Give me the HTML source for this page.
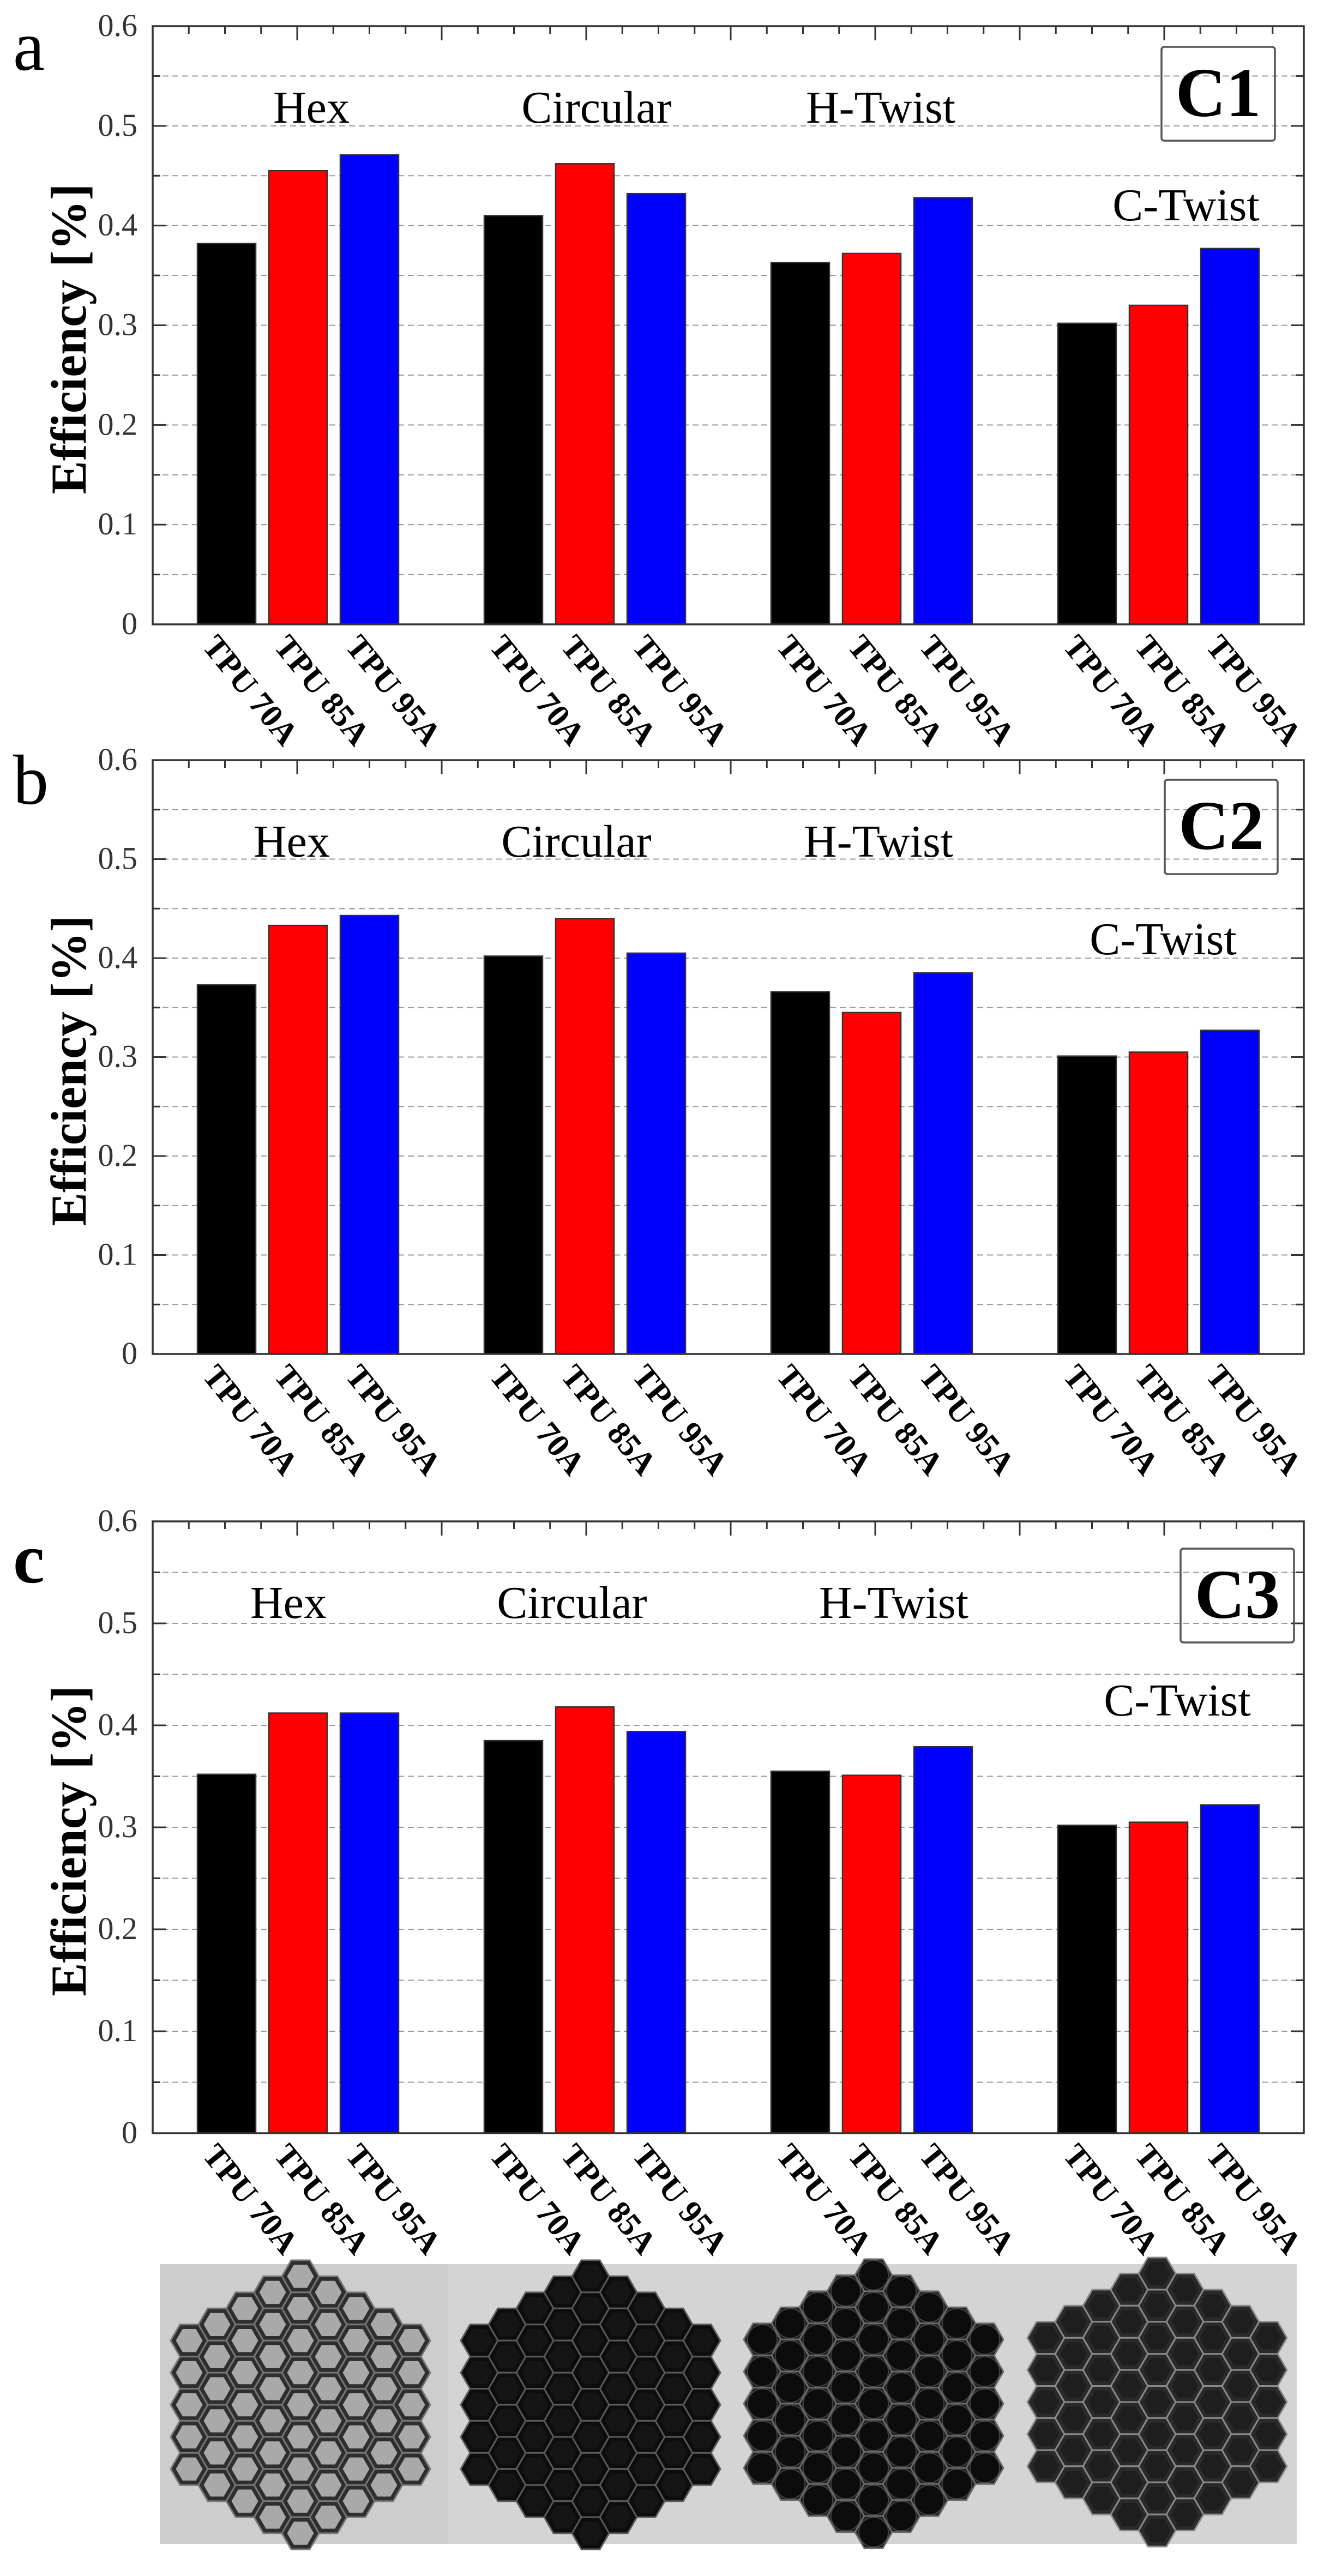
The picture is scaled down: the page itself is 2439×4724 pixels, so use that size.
<!DOCTYPE html>
<html><head><meta charset="utf-8"><style>
html,body{margin:0;padding:0;background:#fff}
svg{display:block}
</style></head><body>
<svg id="fig" xmlns="http://www.w3.org/2000/svg" width="2439" height="4724" viewBox="0 0 2439 4724"></svg>
<script>
const categories = ["Hex","Circular","H-Twist","C-Twist"];
const materials = ["TPU 70A","TPU 85A","TPU 95A"];
const yTicks = ["0","0.1","0.2","0.3","0.4","0.5","0.6"];
const c1Values = [0.382,0.455,0.471, 0.410,0.462,0.432, 0.363,0.372,0.428, 0.302,0.320,0.377];
const c2Values = [0.373,0.433,0.443, 0.402,0.440,0.405, 0.366,0.345,0.385, 0.301,0.305,0.327];
const c3Values = [0.352,0.412,0.412, 0.385,0.418,0.394, 0.355,0.351,0.379, 0.302,0.305,0.322];
const panelNames = ["C1","C2","C3"];
const panelLetters = ["a","b","c"];

const NS="http://www.w3.org/2000/svg";
const fig=document.getElementById('fig');
function mk(tag,attrs,parent,text){const e=document.createElementNS(NS,tag);for(const k in attrs)e.setAttribute(k,attrs[k]);if(text!==undefined)e.textContent=text;(parent||fig).appendChild(e);return e;}
const colors=["#000000","#ff0000","#0000ff"];
const serif='"Liberation Serif", serif';

const layouts=[
 {top:48,bottom:1145,series:c1Values,catX:[571,1094,1615,2175],boxX:2130,boxY:86,boxW:208,boxH:172},
 {top:1394,bottom:2483,series:c2Values,catX:[535,1057,1611,2133],boxX:2136,boxY:1430,boxW:207,boxH:173},
 {top:2790,bottom:3912,series:c3Values,catX:[529,1049,1639,2159],boxX:2165,boxY:2840,boxW:208,boxH:172}
];
const L=280,R=2391;
const barW=107,barStep=131,groupStep=526,firstBar=362;

layouts.forEach((lay,pi)=>{
  const g=mk('g',{});
  
  
  const yS=v=>lay.bottom-(v/0.6)*(lay.bottom-lay.top);
  // gridlines & y ticks
  for(let i=1;i<12;i++){
    const v=i*0.05,y=yS(v);
    const gl=mk('line',{x1:L,x2:R,y1:y,y2:y,stroke:'#9a9a9a','stroke-width':2,'stroke-dasharray':'11 7'},g);
    
    
    const len=(i%2===0)?24:14;
    mk('line',{x1:L,x2:L+len,y1:y,y2:y,stroke:'#333','stroke-width':3},g);
    mk('line',{x1:R-len,x2:R,y1:y,y2:y,stroke:'#333','stroke-width':3},g);
  }
  // top ticks
  for(let k=0;;k++){
    const x=545-4*66.25+k*66.25; if(x>=R-5)break; if(x<=L+5)continue;
    const major=((k%4)===0);
    mk('line',{x1:x,x2:x,y1:lay.top,y2:lay.top+(major?26:14),stroke:'#333','stroke-width':3},g);
  }
  // y tick labels
  yTicks.forEach((t,i)=>{
    const tl=mk('text',{x:252,y:yS(i*0.1)+18,'text-anchor':'end','font-family':serif,'font-size':58,fill:'#333'},g,t);
    
    
  });
  // bars
  lay.series.forEach((v,i)=>{
    const gi=Math.floor(i/3),mi=i%3;
    const x=firstBar+gi*groupStep+mi*barStep;
    const b=mk('rect',{x:x,y:yS(v),width:barW,height:yS(0)-yS(v),fill:colors[mi],stroke:'#333','stroke-width':2.5},g);
    
    
    const lx=x+40,ly=lay.bottom+14;
    const xl=mk('text',{x:0,y:0,transform:`translate(${lx},${ly}) rotate(51)`,'dominant-baseline':'hanging','font-family':serif,'font-weight':'bold','font-size':60,fill:'#000'},g,materials[mi]);
    
    
  });
  // axes frame
  const fr=mk('rect',{x:L,y:lay.top,width:R-L,height:lay.bottom-lay.top,fill:'none',stroke:'#333','stroke-width':3.5},g);
  
  
  // category labels
  categories.forEach((c,ci)=>{
    const by=(ci===3)?lay.top+356:lay.top+177;
    const cl=mk('text',{x:lay.catX[ci],y:by,'text-anchor':'middle','font-family':serif,'font-size':84,fill:'#000'},g,c);
    
    
  });
  // C box
  const bx=mk('rect',{x:lay.boxX,y:lay.boxY,width:lay.boxW,height:lay.boxH,rx:5,fill:'#fff','fill-opacity':0,stroke:'#555','stroke-width':3.5},g);
  
  
  const bt=mk('text',{x:lay.boxX+lay.boxW/2,y:lay.boxY+127,'text-anchor':'middle','font-family':serif,'font-weight':'bold','font-size':128,fill:'#000'},g,panelNames[pi]);
  
  
  // panel letter
  const pl=mk('text',{x:24,y:lay.top+(pi===2?112:80),'font-family':serif,'font-weight':pi===2?'bold':'normal','font-size':130,fill:'#000'},g,panelLetters[pi]);
  
  
  // y title
  const cy=(lay.top+lay.bottom)/2+25;
  const yt=mk('text',{x:0,y:0,transform:`translate(157,${cy}) rotate(-90)`,'text-anchor':'middle','font-family':serif,'font-weight':'bold','font-size':92,fill:'#000'},g,'Efficiency [%]');
  
  
});

// photos
const photos=[{x:293,w:528,cx:551,cy:4410},{x:821,w:520,cx:1083,cy:4410},{x:1341,w:523,cx:1602,cy:4408},{x:1864,w:514,cx:2122,cy:4405}];
const holeFill=["#a9a9a9","#151515","#0c0c0c","#1e1e1e"];
const rimFill=["#2e2e2e","#0d0d0d","#1c1c1c","#2a2a2a"];
const rimStroke=["#777","#5a5a5a","#6a6a6a","#8a8a8a"];
photos.forEach((p,pi)=>{
  const g=mk('g',{});
  
  
  mk('rect',{x:p.x,y:4152,width:p.w,height:513,fill:pi===0?'#cdcdcd':'#d4d4d4'},g);
  const r=34,dx=1.5*r,dy=Math.sqrt(3)*r,Rd=245;
  for(let i=-6;i<=6;i++){for(let j=-6;j<=6;j++){
    const x=p.cx+i*dx,y=p.cy+j*dy+((i&1)?dy/2:0);
    if(Math.hypot(x-p.cx,y-p.cy)>Rd)continue;
    let pts=[];for(let k=0;k<6;k++){const a=Math.PI/3*k;pts.push((x+r*Math.cos(a)).toFixed(1)+','+(y+r*Math.sin(a)).toFixed(1));}
    mk('polygon',{points:pts.join(' '),fill:rimFill[pi],stroke:rimStroke[pi],'stroke-width':3},g);
    if(pi===2) mk('circle',{cx:x,cy:y,r:r*0.8,fill:holeFill[pi],stroke:'#444','stroke-width':2},g);
    else { let q=[];for(let k=0;k<6;k++){const a=Math.PI/3*k;q.push((x+r*0.72*Math.cos(a)).toFixed(1)+','+(y+r*0.72*Math.sin(a)).toFixed(1));}
      mk('polygon',{points:q.join(' '),fill:holeFill[pi]},g); }
  }}
});
</script>
</body></html>
